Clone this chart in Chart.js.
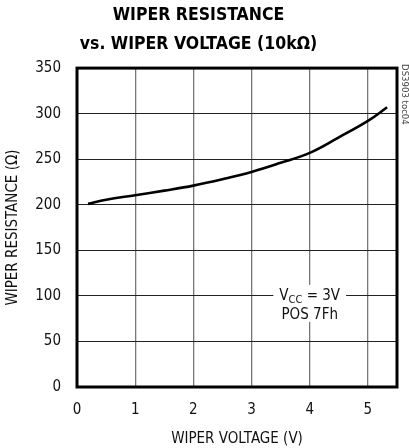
<!DOCTYPE html>
<html>
<head>
<meta charset="utf-8">
<script src="https://cdn.jsdelivr.net/npm/chart.js@4"></script>
<style>
  html, body { margin: 0; padding: 0; background: #fff; }
  #wrap { width: 409px; height: 448px; }
</style>
</head>
<body>
<div id="wrap"><canvas id="graphique"></canvas></div>
<script>
/* Donnees */
const tension = [0.19, 0.5, 1, 1.5, 2, 2.5, 3, 3.5, 4, 4.5, 5, 5.33];
const resistance = [201, 205.5, 210.5, 215.5, 221, 228, 236, 246, 257, 274, 292, 307];
const ticksX = [0, 1, 2, 3, 4, 5];
const ticksY = [0, 50, 100, 150, 200, 250, 300, 350];
const titre = ['WIPER RESISTANCE', 'vs. WIPER VOLTAGE (10k\u03A9)'];
const note = { x: 4, y: 100, ligne1: 'V', indice: 'CC', suite: ' = 3V', ligne2: 'POS 7Fh' };
const refDoc = 'DS3903 toc04';

const police = "'Liberation Sans Narrow', 'DejaVu Sans Condensed', sans-serif";

/* Cadre + note + reference */
const decor = {
  id: 'decor',
  afterDraw(chart) {
    const ctx = chart.ctx;
    const a = chart.chartArea;
    const sx = chart.scales.x, sy = chart.scales.y;
    ctx.save();

    // note VCC
    const cx = sx.getPixelForValue(note.x);
    const cy = sy.getPixelForValue(note.y);
    ctx.font = `15px ${police}`;
    const w1 = ctx.measureText(note.ligne1).width;
    ctx.font = `11px ${police}`;
    const w2 = ctx.measureText(note.indice).width;
    ctx.font = `15px ${police}`;
    const w3 = ctx.measureText(note.suite).width;
    const w4 = ctx.measureText(note.ligne2).width;
    const total = w1 + w2 + w3;
    ctx.fillStyle = '#fff';
    ctx.fillRect(cx - total / 2 - 6, cy - 11, total + 12, 37);
    ctx.fillStyle = '#111';
    ctx.textBaseline = 'middle';
    ctx.textAlign = 'left';
    let x0 = cx - total / 2;
    ctx.fillText(note.ligne1, x0, cy);
    ctx.font = `11px ${police}`;
    ctx.fillText(note.indice, x0 + w1, cy + 4);
    ctx.font = `15px ${police}`;
    ctx.fillText(note.suite, x0 + w1 + w2, cy);
    ctx.fillText(note.ligne2, cx - w4 / 2, cy + 19);

    // cadre
    ctx.strokeStyle = '#000';
    ctx.lineWidth = 3;
    ctx.strokeRect(a.left, a.top, a.right - a.left, a.bottom - a.top);

    // reference document
    ctx.translate(a.right + 7, a.top - 4);
    ctx.rotate(Math.PI / 2);
    ctx.font = `9.5px ${police}`;
    ctx.fillStyle = '#444';
    ctx.textAlign = 'left';
    ctx.textBaseline = 'middle';
    ctx.fillText(refDoc, 0, 0);
    ctx.restore();
  }
};

const data = {
  datasets: [{
    data: tension.map((v, i) => ({ x: v, y: resistance[i] })),
    borderColor: '#000',
    borderWidth: 2.6,
    pointRadius: 0,
    tension: 0.4,
    fill: false
  }]
};

const options = {
  responsive: true,
  maintainAspectRatio: false,
  animation: false,
  layout: { padding: { left: 0, right: 12, top: 0, bottom: 0 } },
  plugins: {
    legend: { display: false },
    tooltip: { enabled: false },
    title: {
      display: true,
      text: titre,
      color: '#000',
      font: { family: police, size: 17.5, weight: 'bold', lineHeight: 1.66 },
      padding: { top: 1, bottom: 9 }
    }
  },
  scales: {
    x: {
      type: 'linear',
      min: 0,
      max: 5.5,
      afterBuildTicks: s => { s.ticks = ticksX.map(v => ({ value: v })); },
      afterFit: s => { s.height = 61; },
      grid: { color: '#777', lineWidth: 1.3, drawTicks: false },
      border: { display: false },
      ticks: { color: '#111', font: { family: police, size: 15 }, padding: 14 },
      title: {
        display: true,
        text: 'WIPER VOLTAGE (V)',
        color: '#111',
        font: { family: police, size: 15 },
        padding: { top: 3, bottom: 0 }
      }
    },
    y: {
      type: 'linear',
      min: 0,
      max: 350,
      afterBuildTicks: s => { s.ticks = ticksY.map(v => ({ value: v })); },
      afterFit: s => { s.width = 77; },
      grid: { color: '#222', lineWidth: 1, drawTicks: false },
      border: { display: false },
      ticks: { color: '#111', font: { family: police, size: 15 }, padding: 16 },
      title: {
        display: true,
        text: 'WIPER RESISTANCE (\u03A9)',
        color: '#111',
        font: { family: police, size: 15 },
        padding: { top: 4, bottom: 0 }
      }
    }
  }
};

const ctx = document.getElementById('graphique').getContext('2d');
new Chart(ctx, { type: 'line', data, options, plugins: [decor] });
</script>
</body>
</html>
